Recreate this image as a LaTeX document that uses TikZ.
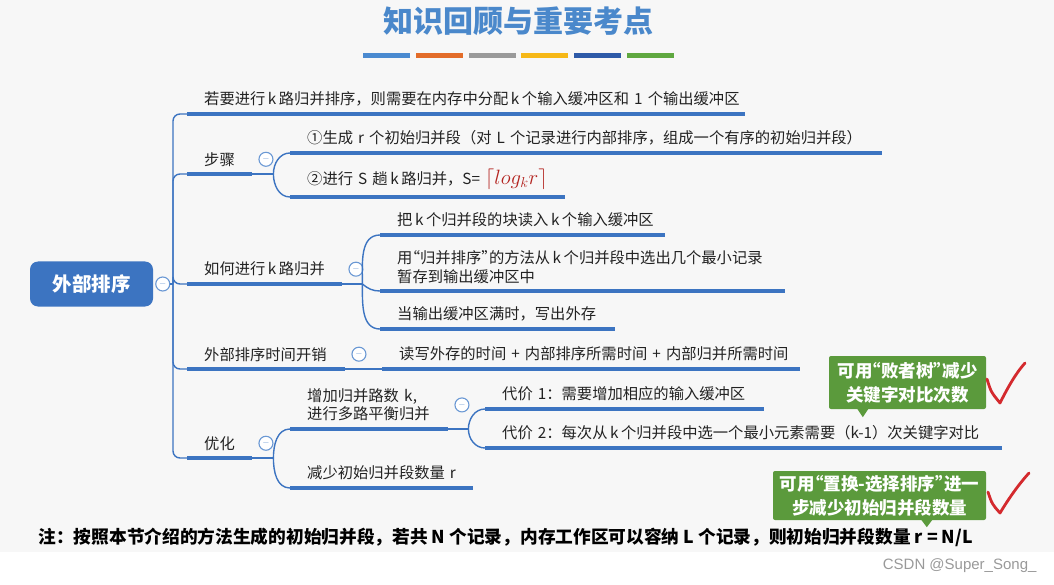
\documentclass[tikz,border=0pt]{standalone}
\usepackage{fontspec}
\setmainfont{Noto Sans CJK SC}
\newfontfamily\wmfont{Liberation Sans}
\usepackage{xcolor}
\usepackage{tikz}
\usetikzlibrary{calc, positioning}

\definecolor{mapblue}{HTML}{3C74C1}
\definecolor{foldblue}{HTML}{6A98D4}
\definecolor{titleblue}{HTML}{4A88CB}
\definecolor{tipgreen}{HTML}{5B9A3C}
\definecolor{checkred}{HTML}{D42A2E}
\definecolor{formred}{HTML}{B3231F}
\definecolor{textgray}{HTML}{222222}
\definecolor{lineblue}{HTML}{4A8AD0}
\definecolor{lineorange}{HTML}{E36C29}
\definecolor{linegray}{HTML}{9A9A9A}
\definecolor{lineyellow}{HTML}{F6B817}
\definecolor{linenavy}{HTML}{2E5AA8}
\definecolor{linegreen}{HTML}{5FA840}

% dấu ngoặc kép hẹp
\newcommand{\qopen}{\makebox[0.5em][r]{“}}
\newcommand{\qclose}{\makebox[0.5em][l]{”}}

\tikzset{
    topic/.style={anchor=south west, inner xsep=17pt, inner ysep=7.5pt, align=left,
        text=textgray, font=\fontsize{15.3}{18.5}\selectfont},
    bar/.style={mapblue, line width=3.6pt},
    link/.style={mapblue, line width=1.4pt},
    fold/.style={circle, draw=foldblue, fill=white, line width=1.1pt, minimum size=14pt,
        inner sep=0pt, text=foldblue, font=\fontsize{9}{9}\selectfont},
    tipbox/.style={fill=tipgreen, rounded corners=2pt, text=white, align=center,
        font=\bfseries\fontsize{17.5}{24}\selectfont},
    check/.style={checkred, line width=2.8pt, line cap=round, line join=round}
}

\begin{document}
\begin{tikzpicture}[x=1pt, y=-1pt]
    \useasboundingbox (0,0) rectangle (1054,585);

    % 1. Nền và tiêu đề
    \fill[black!3] (0,0) rectangle (1054,552);
    \node[text=titleblue, font=\bfseries\fontsize{30}{30}\selectfont] (title) at (518,21) {知识回顾与重要考点};
    \foreach \c [count=\i] in {lineblue, lineorange, linegray, lineyellow, linenavy, linegreen}
        \fill[\c] ({363+52.8*(\i-1)},53) rectangle ++(47,5);

    % 2. Nút gốc
    \node[fill=mapblue, rounded corners=8pt, minimum width=123pt, minimum height=45pt,
        text=white, font=\bfseries\fontsize{19.5}{20}\selectfont] (root) at (91.5,284) {外部排序};
    \node[fold, right=2pt of root.east] (f0) {$-$};
    \coordinate (j0) at (173,284);
    \draw[link] (f0) -- (j0);

    % 3. Nhánh cấp 1
    \node[topic, text width=524pt] (t1) at (187,114) {若要进行\,k\,路归并排序，则需要在内存中分配\,k\,个输入缓冲区和~1~个输出缓冲区};
    \node[topic, text width=31pt] (t2) at (187,174) {步骤};
    \node[topic, text width=121pt] (t3) at (187,284) {如何进行\,k\,路归并};
    \node[topic, text width=124pt] (t4) at (187,369) {外部排序时间开销};
    \node[topic, text width=31pt] (t5) at (187,458) {优化};
    \foreach \n in {t1,t2,t3,t4,t5}
        \draw[link, rounded corners=7pt] (j0) |- (\n.south west);

    \node[fold, right=6pt of t2.east] (f2) {$-$};
    \node[fold, right=6pt of t3.east] (f3) {$-$};
    \node[fold, right=6pt of t4.east] (f4) {$-$};
    \node[fold, right=6pt of t5.east] (f5) {$-$};

    % 4. Các bước
    \coordinate[right=21pt of t2.south east] (k2);
    \node[topic, text width=558pt] (s1) at (290,153) {①生成~r~个初始归并段（对~L~个记录进行内部排序，组成一个有序的初始归并段）};
    \node[topic, text width=241pt] (s2) at (290,197) {②进行~S~趟\,k\,路归并，S=~{\color{formred}\fontsize{22}{22}\selectfont$\lceil log_k r\rceil$}};
    \draw[link] (t2.south east) -- (k2);
    \draw[link] (k2) to[out=90, in=180] (s1.south west);
    \draw[link] (k2) to[out=-90, in=180] (s2.south west);

    % 5. Cách trộn k đường
    \coordinate[right=20pt of t3.south east] (k3);
    \node[topic, text width=251pt] (h1) at (380,235) {把\,k\,个归并段的块读入\,k\,个输入缓冲区};
    \node[topic, text width=371pt] (h2) at (380,291) {用\qopen 归并排序\qclose 的方法从\,k\,个归并段中选出几个最小记录\\暂存到输出缓冲区中};
    \node[topic, text width=201pt] (h3) at (380,329) {当输出缓冲区满时，写出外存};
    \draw[link] (t3.south east) -- (k3);
    \draw[link] (k3) to[out=90, in=180] (h1.south west);
    \draw[link] (k3) to[out=-40, in=180] (h2.south west);
    \draw[link] (k3) to[out=-90, in=180] (h3.south west);

    % 6. Thời gian
    \node[topic, text width=384pt] (c1) at (382,369) {读写外存的时间~+~内部排序所需时间~+~内部归并所需时间};
    \draw[link] (t4.south east) -- (c1.south west);

    % 7. Tối ưu
    \coordinate[right=21pt of t5.south east] (k5);
    \node[topic, text width=124pt] (o1) at (290,429) {增加归并路数~k,\\进行多路平衡归并};
    \node[topic, text width=149pt] (o2) at (290,488) {减少初始归并段数量~r};
    \draw[link] (t5.south east) -- (k5);
    \draw[link] (k5) to[out=90, in=180] (o1.south west);
    \draw[link] (k5) to[out=-90, in=180] (o2.south west);
    \node[fold, right=6pt of o1.east] (f6) {$-$};

    \coordinate[right=20pt of o1.south east] (k6);
    \node[topic, text width=245pt] (p1) at (485,409) {代价~1：需要增加相应的输入缓冲区};
    \node[topic, text width=483pt] (p2) at (485,448) {代价~2：每次从\,k\,个归并段中选一个最小元素需要（k-1）次关键字对比};
    \draw[link] (o1.south east) -- (k6);
    \draw[link] (k6) to[out=90, in=180] (p1.south west);
    \draw[link] (k6) to[out=-90, in=180] (p2.south west);

    % 8. Đường gạch dưới các chủ đề
    \foreach \n in {t1,t2,t3,t4,t5,s1,s2,h1,h2,h3,c1,o1,o2,p1,p2}
        \draw[bar] (\n.south west) -- (\n.south east);

    % 9. Chú thích màu xanh lá
    \node[tipbox, minimum width=157pt, minimum height=53pt] (n1) at (907.5,382.5) {可用\qopen 败者树\qclose 减少\\关键字对比次数};
    \fill[tipgreen] ($(n1.south west)+(28,-1)$) -- ($(n1.south west)+(40,-1)$) -- ($(n1.south west)+(34,8)$) -- cycle;
    \node[tipbox, minimum width=213pt, minimum height=49pt] (n2) at (879.5,495.5) {可用\qopen 置换-选择排序\qclose 进一\\步减少初始归并段数量};
    \fill[tipgreen] ($(n2.south west)+(148,-1)$) -- ($(n2.south west)+(160,-1)$) -- ($(n2.south west)+(154,7)$) -- cycle;

    % 10. Dấu tích đỏ
    \draw[check] (987,379) .. controls (991,392) .. (1000,403) .. controls (1008,387) and (1016,373) .. (1025,363);
    \draw[check] (988,492) .. controls (992,504) .. (1000,513) .. controls (1009,498) and (1019,484) .. (1029,473);

    % 11. Ghi chú cuối
    \node[anchor=west, text=black, font=\bfseries\fontsize{17.7}{17.7}\selectfont] (note) at (35,537)
        {注：按照本节介绍的方法生成的初始归并段，若共~N~个记录，内存工作区可以容纳~L~个记录，则初始归并段数量~r~=~N/L};
    \node[anchor=east, text=black!40, font=\wmfont\fontsize{15}{15}\selectfont] (mark) at (1040,566) {CSDN @Super\_Song\_};
\end{tikzpicture}
\end{document}
